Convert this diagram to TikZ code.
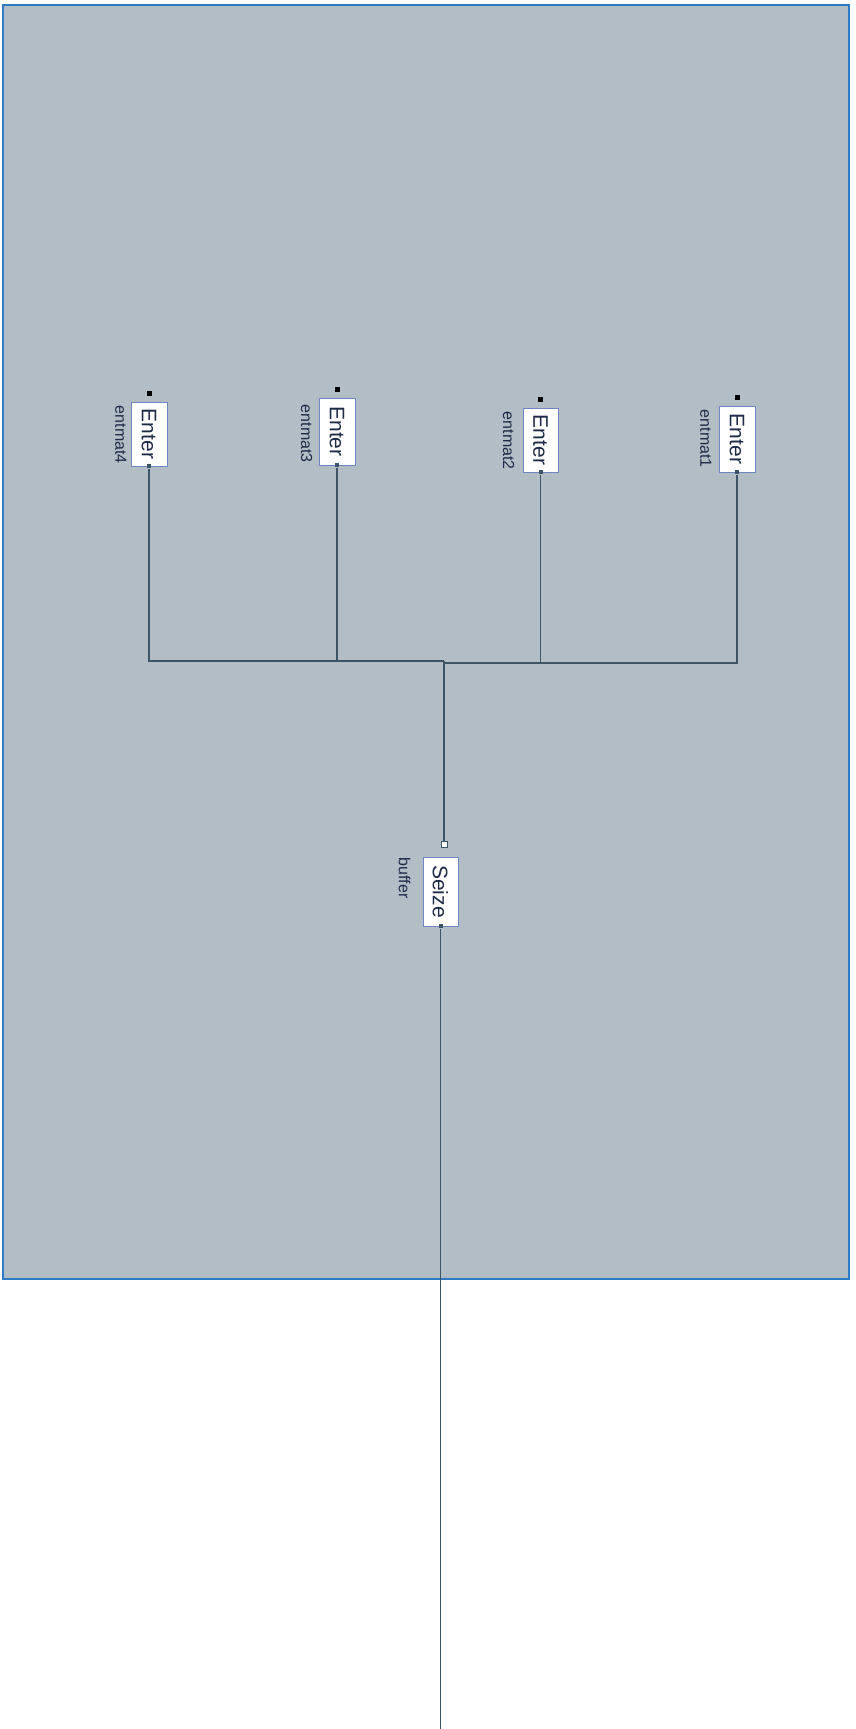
\documentclass[tikz,border=0pt]{standalone}
\usepackage{fontspec}
\setmainfont{Liberation Sans}
\usepackage{graphicx}
\usetikzlibrary{positioning,calc}
\definecolor{cFrame}{HTML}{2E7BC4}
\definecolor{cFrameBg}{HTML}{B3BDC6}
\definecolor{cLink}{HTML}{3C5566}
\definecolor{cBlock}{HTML}{6F86C0}
\definecolor{cInk}{HTML}{1E2A48}
\tikzset{
  frame/.style={draw=cFrame, line width=2pt, fill=cFrameBg},
  block/.style={draw=cBlock, fill=white, line width=0.8pt, inner sep=0pt,
                minimum width=36pt, minimum height=66pt,
                font=\fontsize{21}{21}\selectfont, text=cInk},
  blockLbl/.style={font=\fontsize{16}{16}\selectfont, text=cInk, inner sep=0pt},
  portIn/.style={fill=black, minimum size=5pt, inner sep=0pt},
  portHollow/.style={draw=cLink, fill=white, line width=0.8pt, minimum size=6pt, inner sep=0pt},
  portOut/.style={fill=cLink, minimum size=4pt, inner sep=0pt},
  link/.style={draw=cLink, line width=1.2pt},
}
\begin{document}
\begin{tikzpicture}[x=1pt, y=1pt]
\useasboundingbox (0,0) rectangle (856,-1729);

% ========== MODEL FRAME ==========
\draw[frame] (3,-5) rectangle (849,-1279);

% ========== ENTER BLOCKS ==========
\node[block, minimum height=64pt] (enter4) at (149,-434) {\rotatebox{-90}{Enter}};
\node[block, minimum height=67pt] (enter3) at (337,-431.5) {\rotatebox{-90}{Enter}};
\node[block, minimum width=35pt, minimum height=64pt] (enter2) at (540.5,-440) {\rotatebox{-90}{Enter}};
\node[block] (enter1) at (737,-439) {\rotatebox{-90}{Enter}};

\node[blockLbl, left=4pt of enter4.north west, anchor=north east, yshift=-4pt] (lbl4) {\rotatebox{-90}{entmat4}};
\node[blockLbl, left=6pt of enter3.north west, anchor=north east, yshift=-7pt] (lbl3) {\rotatebox{-90}{entmat3}};
\node[blockLbl, left=8pt of enter2.north west, anchor=north east, yshift=-4pt] (lbl2) {\rotatebox{-90}{entmat2}};
\node[blockLbl, left=7pt of enter1.north west, anchor=north east, yshift=-4pt] (lbl1) {\rotatebox{-90}{entmat1}};

\foreach \i in {1,...,4} {
  \node[portIn, above=5pt of enter\i] (in\i) {};
  \node[portOut] (out\i) at (enter\i.south) {};
}

% ========== SEIZE BLOCK ==========
\node[block, minimum width=35pt, minimum height=69pt] (seize) at (440.5,-891.5) {\rotatebox{-90}{Seize}};
\node[blockLbl, left=12pt of seize.north west, anchor=north east, yshift=-1pt] (lblS) {\rotatebox{-90}{buffer}};
\node[portHollow, above=9pt of seize, xshift=3.5pt] (seizeIn) {};
\node[portOut] (seizeOut) at (seize.south) {};

% ========== CONNECTORS ==========
\coordinate (busL) at (seizeIn |- 0,-661);
\coordinate (busR) at (seizeIn |- 0,-663);
\coordinate (tail) at (seize.south |- 0,-1729);

\draw[link] (out4) |- (busL);
\draw[link] (out3) -- (out3 |- busL);
\draw[link] (out1) |- (busR);
\draw[link] (out2) -- (out2 |- busR);
\draw[link] (busL) -- (seizeIn);
\draw[link] (seizeOut) -- (tail);

\end{tikzpicture}
\end{document}
